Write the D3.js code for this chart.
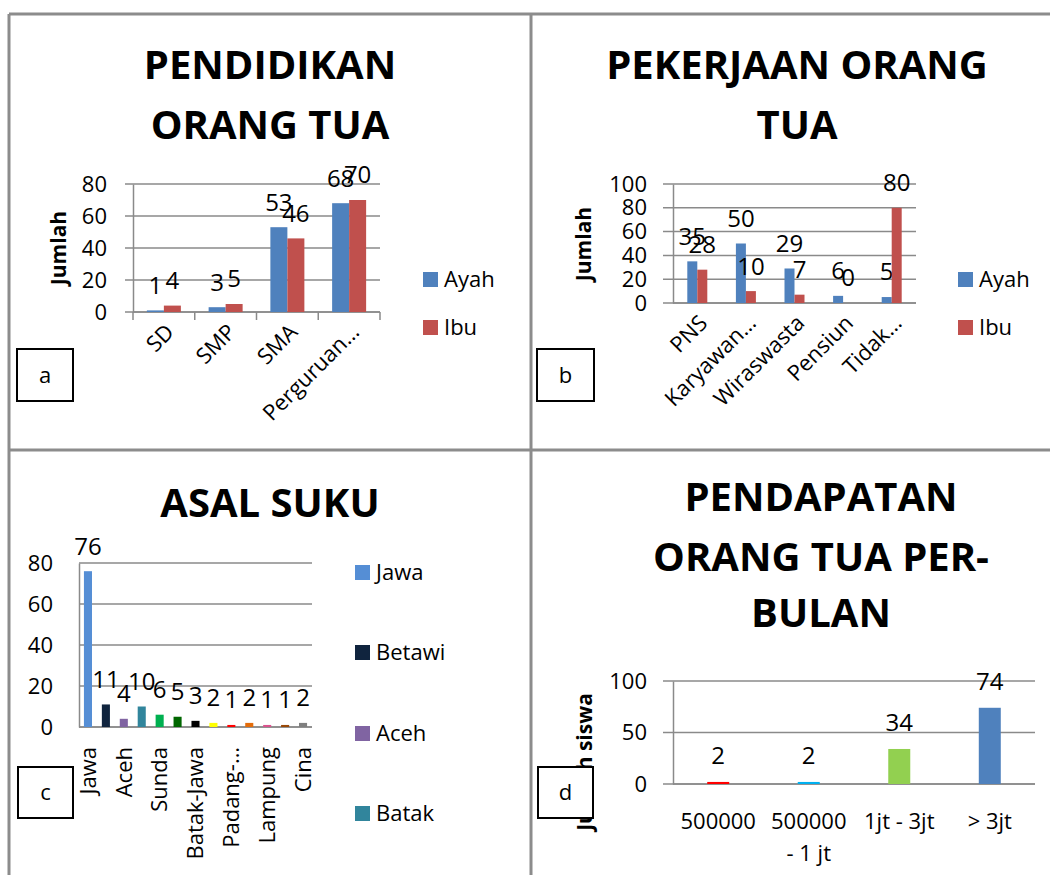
<!DOCTYPE html>
<html><head><meta charset="utf-8">
<script src="https://cdn.jsdelivr.net/npm/d3@7/dist/d3.min.js"></script>
<style>
body{margin:0;background:#fff;}
svg{display:block;font-family:"Open Sans",sans-serif;}
</style></head><body>
<svg id="chart" width="1050" height="875"></svg>
<script>
// ---------- DATA ----------
const eduCats = ["SD", "SMP", "SMA", "Perguruan…"];
const eduAyah = [1, 3, 53, 68];
const eduIbu  = [4, 5, 46, 70];
const eduTicks = [0, 20, 40, 60, 80];

const jobCats = ["PNS", "Karyawan…", "Wiraswasta", "Pensiun", "Tidak…"];
const jobAyah = [35, 50, 29, 6, 5];
const jobIbu  = [28, 10, 7, 0, 80];
const jobTicks = [0, 20, 40, 60, 80, 100];

const sukuCats = ["Jawa", "Betawi", "Aceh", "Batak", "Sunda", "Melayu", "Batak-Jawa", "Minang", "Padang-…", "Palembang", "Lampung", "Bugis", "Cina"];
const sukuVals = [76, 11, 4, 10, 6, 5, 3, 2, 1, 2, 1, 1, 2];
const sukuLegend = ["Jawa", "Betawi", "Aceh", "Batak"];
const sukuTicks = [0, 20, 40, 60, 80];

const incCats = ["500000", "500000 - 1 jt", "1jt - 3jt", "> 3jt"];
const incVals = [2, 2, 34, 74];
const incTicks = [0, 50, 100];

const seriesNames = ["Ayah", "Ibu"];

// ---------- STYLE ----------
const C_AYAH = "#4F81BD", C_IBU = "#C0504D";
const sukuColors = ["#558ED5", "#10243E", "#8064A2", "#31859C", "#00B050", "#006600", "#000000", "#FFFF00", "#FF0000", "#E46C0A", "#D9538D", "#984807", "#7F7F7F"];
const incColors = ["#FF0000", "#00B0F0", "#92D050", "#4F81BD"];
const GRID = "#8a8a8a";
const FS = 22;

const svg = d3.select("#chart");

// panel borders
const B = "#8c8c8c";
[[9,14,1050,14],[9,14,9,875],[531,14,531,875],[9,450,1050,450]].forEach(l=>{
  svg.append("line").attr("x1",l[0]).attr("y1",l[1]).attr("x2",l[2]).attr("y2",l[3])
    .attr("stroke",B).attr("stroke-width",3);
});

function title(lines, cx, ys){
  lines.forEach((t,i)=>{
    svg.append("text").attr("x",cx).attr("y",ys[i]).attr("text-anchor","middle")
      .attr("dy","0.35em").attr("font-size",40).attr("font-weight","bold").attr("fill","#000").text(t);
  });
}
function yLabel(t, x, y){
  svg.append("text").attr("transform",`translate(${x},${y}) rotate(-90)`).attr("text-anchor","middle")
    .attr("dy","0.35em").attr("font-size",21).attr("font-weight","bold").text(t);
}
function letterBox(t, x0, y0, x1, y1){
  svg.append("rect").attr("x",x0).attr("y",y0).attr("width",x1-x0).attr("height",y1-y0)
    .attr("fill","#fff").attr("stroke","#000").attr("stroke-width",2);
  svg.append("text").attr("x",(x0+x1)/2).attr("y",(y0+y1)/2).attr("text-anchor","middle")
    .attr("dy","0.35em").attr("font-size",FS).text(t);
}
function yAxis(g, y, ticks, x0, x1, tick){
  ticks.forEach(v=>{
    g.append("line").attr("x1",x0-tick).attr("x2",x1).attr("y1",y(v)).attr("y2",y(v))
      .attr("stroke",GRID).attr("stroke-width",1.5);
  });
  const ax = g.append("g").attr("transform",`translate(${x0},0)`)
    .call(d3.axisLeft(y).tickValues(ticks).tickSize(0).tickPadding(26));
  ax.select(".domain").attr("stroke",GRID).attr("stroke-width",1.5);
  ax.selectAll("text").attr("font-size",FS).attr("font-family","Open Sans").attr("fill","#000");
}
function legend(items, colors, x, ys){
  items.forEach((t,i)=>{
    svg.append("rect").attr("x",x).attr("y",ys[i]-7).attr("width",15).attr("height",15).attr("fill",colors[i]);
    svg.append("text").attr("x",x+21).attr("y",ys[i]).attr("dy","0.35em").attr("font-size",FS).text(t);
  });
}

// ---------- PANEL A ----------
(function(){
  const g = svg.append("g");
  const x0=133, x1=380, yb=312, yt=184;
  const x = d3.scaleBand().domain(eduCats).range([x0,x1]);
  const step = x.step(), gw = 34/61.75;
  const xs = d3.scaleBand().domain(seriesNames).range([step*(1-gw)/2, step*(1+gw)/2]);
  const y = d3.scaleLinear().domain([0,80]).range([yb,yt]);
  yAxis(g, y, eduTicks, x0, x1, 8);
  eduCats.concat([null]).forEach((c,i)=>{
    const xx = x0 + i*step;
    g.append("line").attr("x1",xx).attr("x2",xx).attr("y1",yb).attr("y2",yb+8).attr("stroke",GRID).attr("stroke-width",1.5);
  });
  g.append("line").attr("x1",x0).attr("x2",x1).attr("y1",yb).attr("y2",yb).attr("stroke",GRID).attr("stroke-width",1.5);
  const data = [eduAyah, eduIbu], cols=[C_AYAH, C_IBU];
  data.forEach((arr,si)=>{
    arr.forEach((v,i)=>{
      const bx = x(eduCats[i]) + xs(seriesNames[si]);
      g.append("rect").attr("x",bx).attr("y",y(v)).attr("width",xs.bandwidth()).attr("height",yb-y(v)).attr("fill",cols[si]);
      g.append("text").attr("x",bx+xs.bandwidth()/2).attr("y",y(v)-25).attr("dy","0.35em")
        .attr("text-anchor","middle").attr("font-size",24).text(v);
    });
  });
  eduCats.forEach(c=>{
    const cx = x(c)+step/2;
    g.append("text").attr("transform",`translate(${cx+6},${yb+16}) rotate(-45)`).attr("text-anchor","end")
      .attr("dy","0.35em").attr("font-size",FS).text(c);
  });
  title(["PENDIDIKAN","ORANG TUA"], 270, [65,125]);
  yLabel("Jumlah", 59, 248);
  legend(seriesNames, [C_AYAH,C_IBU], 423, [279,327]);
  letterBox("a", 17, 349, 73, 401);
})();

// ---------- PANEL B ----------
(function(){
  const g = svg.append("g");
  const x0=673, x1=916, yb=303, yt=184;
  const x = d3.scaleBand().domain(jobCats).range([x0,x1]);
  const step = x.step(), gw = 20/step;
  const xs = d3.scaleBand().domain(seriesNames).range([step*(1-gw)/2, step*(1+gw)/2]);
  const y = d3.scaleLinear().domain([0,100]).range([yb,yt]);
  yAxis(g, y, jobTicks, x0, x1, 10);
  g.append("line").attr("x1",x0).attr("x2",x1).attr("y1",yb).attr("y2",yb).attr("stroke",GRID).attr("stroke-width",1.5);
  const data = [jobAyah, jobIbu], cols=[C_AYAH, C_IBU];
  data.forEach((arr,si)=>{
    arr.forEach((v,i)=>{
      const bx = x(jobCats[i]) + xs(seriesNames[si]);
      g.append("rect").attr("x",bx).attr("y",y(v)).attr("width",xs.bandwidth()).attr("height",yb-y(v)).attr("fill",cols[si]);
      g.append("text").attr("x",bx+xs.bandwidth()/2).attr("y",y(v)-25).attr("dy","0.35em")
        .attr("text-anchor","middle").attr("font-size",24).text(v);
    });
  });
  jobCats.forEach(c=>{
    const cx = x(c)+step/2;
    g.append("text").attr("transform",`translate(${cx+6},${yb+16}) rotate(-45)`).attr("text-anchor","end")
      .attr("dy","0.35em").attr("font-size",FS).text(c);
  });
  title(["PEKERJAAN ORANG","TUA"], 797, [65,125]);
  yLabel("Jumlah", 584, 244);
  legend(seriesNames, [C_AYAH,C_IBU], 958, [279,327]);
  letterBox("b", 537, 349, 594, 401);
})();

// ---------- PANEL C ----------
(function(){
  const g = svg.append("g");
  const x0=79, x1=312, yb=727, yt=563;
  const x = d3.scaleBand().domain(sukuCats).range([x0,x1]).paddingInner(0.55).paddingOuter(0.275);
  const y = d3.scaleLinear().domain([0,80]).range([yb,yt]);
  yAxis(g, y, sukuTicks, x0, x1, 0);
  g.append("line").attr("x1",x0).attr("x2",x1).attr("y1",yb).attr("y2",yb).attr("stroke",GRID).attr("stroke-width",1.5);
  sukuVals.forEach((v,i)=>{
    const bx = x(sukuCats[i]);
    g.append("rect").attr("x",bx).attr("y",y(v)).attr("width",x.bandwidth()).attr("height",yb-y(v)).attr("fill",sukuColors[i]);
    g.append("text").attr("x",bx+x.bandwidth()/2).attr("y",y(v)-25).attr("dy","0.35em")
      .attr("text-anchor","middle").attr("font-size",24).text(v);
  });
  sukuCats.forEach((c,i)=>{
    if(i%2) return;
    const cx = x(c)+x.bandwidth()/2;
    g.append("text").attr("transform",`translate(${cx},${yb+20}) rotate(-90)`).attr("text-anchor","end")
      .attr("dy","0.35em").attr("font-size",FS).text(c);
  });
  title(["ASAL SUKU"], 270, [503]);
  legend(sukuLegend, sukuColors.slice(0,4), 355, [572,652,733,813]);
  letterBox("c", 18, 767, 73, 818);
})();

// ---------- PANEL D ----------
(function(){
  const g = svg.append("g");
  const x0=673, x1=1035, yb=784, yt=681;
  const x = d3.scaleBand().domain(incCats).range([x0,x1]).paddingInner(0.757).paddingOuter(0.378);
  const y = d3.scaleLinear().domain([0,100]).range([yb,yt]);
  yLabel("Jumlah siswa", 585, 762);
  yAxis(g, y, incTicks, x0, x1, 10);
  g.append("line").attr("x1",x0).attr("x2",x1).attr("y1",yb).attr("y2",yb).attr("stroke",GRID).attr("stroke-width",1.5);
  incVals.forEach((v,i)=>{
    const bx = x(incCats[i]);
    g.append("rect").attr("x",bx).attr("y",y(v)).attr("width",x.bandwidth()).attr("height",yb-y(v)).attr("fill",incColors[i]);
    g.append("text").attr("x",bx+x.bandwidth()/2).attr("y",y(v)-26).attr("dy","0.35em")
      .attr("text-anchor","middle").attr("font-size",24).text(v);
  });
  incCats.forEach(c=>{
    const cx = x(c)+x.bandwidth()/2;
    const t = g.append("text").attr("x",cx).attr("y",821).attr("text-anchor","middle").attr("font-size",FS);
    const words = c.split(" ");
    let line = [];
    let ts = t.append("tspan").attr("x",cx).attr("dy","0.35em");
    words.forEach(w=>{
      line.push(w); ts.text(line.join(" "));
      if(ts.node().getComputedTextLength() > 84 && line.length>1){
        line.pop(); ts.text(line.join(" ")); line=[w];
        ts = t.append("tspan").attr("x",cx).attr("dy","32px").text(w);
      }
    });
  });
  title(["PENDAPATAN","ORANG TUA PER-","BULAN"], 821, [497,557,613]);
  letterBox("d", 538, 767, 593, 818);
})();
</script></body></html>
